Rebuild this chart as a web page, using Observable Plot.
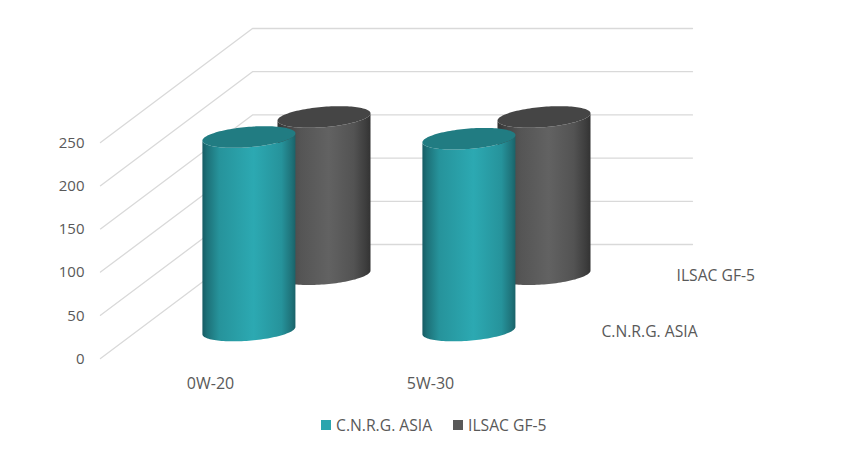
<!DOCTYPE html>
<html>
<head>
<meta charset="utf-8">
<script src="https://cdn.jsdelivr.net/npm/d3@7"></script>
<script src="https://cdn.jsdelivr.net/npm/@observablehq/plot@0.6"></script>
<style>
html,body{margin:0;padding:0;background:#fff;width:860px;height:453px;overflow:hidden}
#legend{height:48px;position:relative;font:15.7px "Open Sans",sans-serif;color:#595959}
#legend span{position:absolute;line-height:20px;white-space:nowrap}
#legend i{position:absolute;width:10px;height:10px}
</style>
</head>
<body>
<div id="chart"></div>
<div id="legend"></div>
<script>
const categories = ["0W-20", "5W-30"];
const seriesNames = ["C.N.R.G. ASIA", "ILSAC GF-5"];
const cnrgValues = [224, 222];
const ilsacValues = [182, 182];
const valueTicks = [0, 50, 100, 150, 200, 250];
const seriesDepth = [0.256, 0.75];
const legendColors = ["#2AA5AE", "#595959"];

// Oblique projection: depth moves a point right and up in data units
const depthX = 152 / 220, depthY = 114 / 0.864;
const radiusX = 0.2114, radiusY = 11.8, tiltY = 4.2, baseDrop = -2;

const grid = valueTicks.flatMap(v => [
  {v, x: 0, y: v},
  {v, x: depthX, y: v + depthY},
  {v, x: 2 + depthX, y: v + depthY}
]);

const angles = d3.range(0, 61).map(i => -Math.cos(i / 60 * Math.PI));
function outline(cat, s, value) {
  const xc = cat + 0.5 + seriesDepth[s] * depthX;
  const y0 = seriesDepth[s] * depthY + baseDrop;
  return angles.map(u => {
    const arc = radiusY * Math.sqrt(Math.max(0, 1 - u * u));
    const tilt = tiltY * u;
    return {
      x: xc + radiusX * u,
      bottom: y0 + tilt - arc,
      topFront: y0 + value + tilt - arc,
      topBack: y0 + value + tilt + arc
    };
  });
}

function gradient(id, stops) {
  const g = d3.create("svg:linearGradient").attr("id", id)
    .attr("x1", 0).attr("x2", 1).attr("y1", 0).attr("y2", 0);
  stops.forEach(([o, c]) => g.append("stop").attr("offset", o).attr("stop-color", c));
  return g.node();
}
const defs = () => {
  const d = d3.create("svg:defs");
  d.append(() => gradient("cyl0", [[0, "#175c64"], [0.05, "#1d7178"], [0.18, "#26939b"], [0.55, "#2ca9b2"], [0.85, "#26939b"], [0.96, "#1e7279"], [1, "#1a6268"]]));
  d.append(() => gradient("cyl1", [[0, "#333333"], [0.08, "#434343"], [0.25, "#555555"], [0.55, "#626262"], [0.82, "#535353"], [0.95, "#3d3d3d"], [1, "#333333"]]));
  return d.node();
};

const capColors = ["#217C82", "#454545"];
const cylinderMarks = [];
categories.forEach((_, c) => {
  [[1, ilsacValues[c]], [0, cnrgValues[c]]].forEach(([s, v]) => {
    const o = outline(c, s, v);
    cylinderMarks.push(
      Plot.areaY(o, {x: "x", y1: "bottom", y2: "topFront", fill: `url(#cyl${s})`}),
      Plot.areaY(o, {x: "x", y1: "topFront", y2: "topBack", fill: capColors[s]})
    );
  });
});

const font = {fill: "#595959", fontFamily: "'Open Sans', sans-serif"};

const chart = Plot.plot({
  width: 860, height: 405,
  margin: 0,
  x: {axis: null, type: "linear", domain: [0, 2 + depthX], range: [100, 692]},
  y: {axis: null, type: "linear", domain: [0, 250 + depthY], range: [358, 28]},
  marks: [
    defs,
    Plot.line(grid, {x: "x", y: "y", z: "v", stroke: "#D9D9D9", strokeWidth: 1.3}),
    ...cylinderMarks,
    Plot.text(valueTicks, {x: () => 0, y: d => d, text: d => String(d), textAnchor: "end", dx: -16, dy: 0.5, fontSize: 15, ...font}),
    Plot.text(categories, {x: (d, i) => i + 0.5, y: () => 0, text: d => d, dy: 25, fontSize: 16, ...font}),
    Plot.text(seriesNames, {x: (d, i) => 2 + seriesDepth[i] * depthX, y: (d, i) => seriesDepth[i] * depthY, text: d => d, textAnchor: "start", dx: 22, dy: 2.5, fontSize: 15.7, ...font})
  ]
});
document.getElementById("chart").appendChild(chart);
chart.style.display = "block";

const legend = document.getElementById("legend");
const legendX = [[321, 336], [453, 468]];
seriesNames.forEach((name, i) => {
  const sw = document.createElement("i");
  sw.style.left = legendX[i][0] + "px";
  sw.style.top = "15px";
  sw.style.background = legendColors[i];
  legend.appendChild(sw);
  const t = document.createElement("span");
  t.style.left = legendX[i][1] + "px";
  t.style.top = "10px";
  t.textContent = name;
  legend.appendChild(t);
});
</script>
</body>
</html>
